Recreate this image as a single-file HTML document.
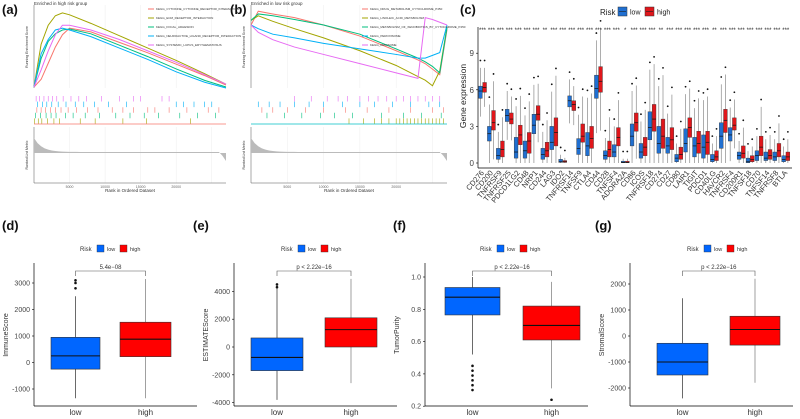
<!DOCTYPE html>
<html><head><meta charset="utf-8"><style>
body{margin:0;background:#fff}
svg{display:block;font-family:"Liberation Sans",Arial,sans-serif}
</style></head><body>
<svg id="fig" width="800" height="419" viewBox="0 0 800 419" xmlns="http://www.w3.org/2000/svg"></svg>
<script>
// ---------- DATA ----------
const gseaA_names=["KEGG_CYTOKINE_CYTOKINE_RECEPTOR_INTERACTION","KEGG_ECM_RECEPTOR_INTERACTION","KEGG_FOCAL_ADHESION","KEGG_NEUROACTIVE_LIGAND_RECEPTOR_INTERACTION","KEGG_SYSTEMIC_LUPUS_ERYTHEMATOSUS"];
const gseaB_names=["KEGG_DRUG_METABOLISM_CYTOCHROME_P450","KEGG_LINOLEIC_ACID_METABOLISM","KEGG_METABOLISM_OF_XENOBIOTICS_BY_CYTOCHROME_P450","KEGG_PEROXISOME","KEGG_RIBOSOME"];
const gseaColors=["#F8766D","#A3A500","#00BF7D","#00B0F6","#E76BF3"];
// rank (thousands) / enrichment score
const gseaA_rank=[0,1,2,3,4,5,8,12,16,20,24,27];
const gseaA_es=[
 [0,0.08,0.25,0.42,0.55,0.62,0.58,0.47,0.36,0.24,0.12,0.02],
 [0,0.45,0.65,0.75,0.78,0.76,0.67,0.54,0.41,0.28,0.14,0.03],
 [0,0.3,0.48,0.56,0.6,0.61,0.56,0.44,0.32,0.19,0.07,0.0],
 [0,0.35,0.5,0.6,0.62,0.6,0.53,0.41,0.29,0.16,0.05,-0.02],
 [0,0.18,0.38,0.55,0.65,0.65,0.6,0.5,0.38,0.26,0.13,0.03]];
const gseaB_rank=[0,1,3,6,10,15,20,23,24,25,26,27];
const gseaB_es=[
 [0.0,0.15,0.12,0.08,0.0,-0.12,-0.28,-0.38,-0.42,-0.48,-0.54,-0.05],
 [0.05,0.1,0.04,-0.04,-0.14,-0.28,-0.44,-0.56,-0.6,-0.66,-0.5,-0.02],
 [0.05,0.12,0.1,0.06,0.0,-0.1,-0.26,-0.36,-0.4,-0.45,-0.52,-0.03],
 [0.0,-0.04,-0.1,-0.14,-0.2,-0.26,-0.32,-0.36,-0.36,-0.33,-0.3,0.0],
 [0.0,-0.08,-0.16,-0.24,-0.32,-0.42,-0.52,-0.58,0.08,0.06,0.03,0.0]];
const rugA=[[0.3,0.8,1.4,2,2.6,3.2,4.1,5.2,6.3,7.4,9.5,12,14,15,18,19],[0.5,1.2,1.8,2.5,3.4,4.5,5.8,7,8.5,10.5,13,20,21,22.5,24,25],[0.4,1,1.6,2.3,3,3.8,4.8,6,7.5,9,11,12.5,14,16,17,19,21.5,24.5,26],[0.2,0.9,1.7,2.4,3.1,4.4,5.5,7.2,9.2,11.5,13.5,15.5,17.5,20.5,23,25.5],[0.1,0.6,1.1,1.9,2.8,3.6,6.5,8.6,12.5,15.8,22]];
const rugB=[[6,8.3,10.5,12,13.3,15,16.2,17.5,18.7,20,21,22,23,24,25,26],[1,2.5,4,6,8,10,12.6,15,17,19.5,22,24.5,26],[1.5,3,5,7.5,10,13,16,19,22,25,26.5],[2.2,4.6,7,9.6,11.5,14,18,21,23.5,26.2],[13.5,15.5,17,18,19,20,20.5,21,21.5,22,22.5,23,23.5,24,24.5,25,25.5,26,26.5]];

const genes=["CD276","CD200","TNFRSF9","TNFRSF25","PDCD1LG2","CD48","NRP1","CD244","LAG3","IDO2","TNFRSF14","TNFSF9","CTLA4","CD44","CD28","TNFSF4","ADORA2A","CD86","ICOS","TNFRSF18","CD274","CD27","CD80","LAIR1","TIGIT","PDCD1","CD40LG","HAVCR2","TNFRSF4","CD200R1","TNFSF18","CD70","TNFSF14","TNFRSF8","BTLA"];
const stars=["***","***","***","***","***","***","***","**","***","***","***","***","***","***","***","***","*","***","***","***","**","***","***","***","***","***","**","***","***","***","***","***","***","***","***"];
const lowMed=[5.9,2.4,0.6,3.9,0.9,1.0,3.1,0.7,1.7,0.1,5.1,1.2,1.4,6.1,0.6,0.9,0.05,2.2,0.9,2.9,1.6,1.4,0.4,1.6,1.4,1.3,0.3,2.2,2.3,0.6,0.1,0.6,0.4,0.5,0.3];
const lowQ1=[5.3,1.8,0.3,3.4,0.4,0.4,2.4,0.3,1.1,0.05,4.6,0.7,0.6,5.3,0.3,0.5,0.02,1.4,0.4,1.9,0.8,0.8,0.1,0.9,0.5,0.4,0.1,1.2,1.8,0.3,0.02,0.2,0.2,0.2,0.1];
const lowQ3=[6.3,3.0,1.2,4.4,2.1,1.8,4.0,1.2,3.0,0.3,5.5,2.0,2.5,7.2,1.0,1.5,0.15,3.2,1.6,4.2,3.0,2.1,0.7,2.8,2.1,2.3,0.7,3.3,2.9,0.9,0.4,1.0,0.9,0.9,0.6];
const highMed=[6.2,3.3,1.1,3.6,2.3,1.8,4.0,1.0,2.5,0.1,4.8,2.2,2.0,6.7,1.1,2.1,0.05,3.3,1.3,3.6,2.2,1.9,0.7,2.9,1.6,1.7,0.5,3.5,3.1,0.8,0.3,1.3,0.6,1.0,0.5];
const highQ1=[5.8,2.7,0.5,3.2,1.5,0.8,3.5,0.5,1.4,0.05,4.3,1.7,1.2,5.8,0.5,1.4,0.02,2.6,0.6,2.6,1.2,1.1,0.3,2.1,0.8,0.7,0.2,2.5,2.7,0.4,0.1,0.6,0.3,0.5,0.2];
const highQ3=[6.6,4.3,1.8,4.1,3.1,2.5,4.7,1.7,3.7,0.2,5.1,3.2,3.0,7.9,1.8,2.9,0.15,4.1,2.1,4.8,3.6,2.9,1.3,3.7,2.6,2.6,1.0,4.4,3.7,1.4,0.6,2.2,1.1,1.6,0.9];
const cTicks=[0,3,6,9];

// bottom panels: [low, high] -> min, q1, median, q3, max
const dStats=[[-1350,-250,250,950,2500],[-1350,220,880,1520,3150]];
const dOut=[2800,3000,3100];
const eStats=[[-3800,-1700,-750,650,4200],[-2600,0,1250,2100,4900]];
const eOut=[4300,4500];
const fStats=[[0.52,0.765,0.875,0.935,1.0],[0.31,0.61,0.70,0.82,0.97]];
const fOutLow=[0.45,0.42,0.39,0.36,0.33,0.30];
const fOutHigh=[0.24];
const gStats=[[-2400,-1500,-1000,-280,1450],[-1800,-350,250,760,2200]];
const dTicks=[-1000,0,1000,2000,3000];
const eTicks=[-4000,-2000,0,2000,4000];
const fTicks=[0.2,0.4,0.6,0.8,1.0];
const gTicks=[-2000,-1000,0,1000,2000];

// ---------- HELPERS ----------
const svg=document.getElementById('fig');
const NS="http://www.w3.org/2000/svg";
function mk(tag,attrs,parent,text){const e=document.createElementNS(NS,tag);for(const k in attrs)e.setAttribute(k,attrs[k]);if(text!==undefined)e.textContent=text;(parent||svg).appendChild(e);return e;}
function grp(name){const g=mk('g',{});return g;}

// panel labels
[["(a)",2,14],["(b)",230,14],["(c)",460,14],["(d)",2,230],["(e)",193,230],["(f)",393,230],["(g)",595,230]].forEach(l=>{
 const t=mk('text',{x:l[1],y:l[2],'font-size':13,'font-weight':'bold',fill:'#111'},svg,l[0]);
 
 
});

// ---------- GSEA ----------
function gsea(name,x0,x1,rank,es,names,rug,zeroY,scale,title,legX,rugLine){
 const g=grp(name);
 const xs=r=>x0+(r/27)*(x1-x0);
 const ys=v=>Math.max(5,Math.min(88,zeroY-v*scale));
 mk('rect',{x:x0,y:5,width:x1-x0,height:83,fill:'#fff'},g);
 [5,10,15,20,25].forEach(k=>{mk('line',{x1:xs(k),x2:xs(k),y1:5,y2:88,stroke:'#eee','stroke-width':0.5},g);mk('line',{x1:xs(k),x2:xs(k),y1:127,y2:183,stroke:'#eee','stroke-width':0.5},g);});
 mk('line',{x1:x0,x2:x0,y1:5,y2:88,stroke:'#555','stroke-width':0.5},g);
 mk('line',{x1:x0,x2:x0,y1:127,y2:183,stroke:'#555','stroke-width':0.5},g);
 mk('line',{x1:x0,x2:x1,y1:183,y2:183,stroke:'#555','stroke-width':0.5},g);
 const tt=mk('text',{x:x0,y:5,'font-size':4.5,fill:'#333'},g,title);
 
 
 const yl=mk('text',{x:0,y:0,'font-size':3.5,fill:'#333','text-anchor':'middle',transform:`translate(${x0-6},47) rotate(-90)`},g,'Running Enrichment Score');
 
 
 const yl2=mk('text',{x:0,y:0,'font-size':3.5,fill:'#333','text-anchor':'middle',transform:`translate(${x0-6},155) rotate(-90)`},g,'Ranked List Metric');
 
 
 const xl=mk('text',{x:(x0+x1)/2,y:192,'font-size':4.5,fill:'#333','text-anchor':'middle'},g,'Rank in Ordered Dataset');
 
 
 [5,10,15,20].forEach(k=>{const t=mk('text',{x:xs(k),y:188,'font-size':3.5,fill:'#666','text-anchor':'middle'},g,k*1000);});
 let d=`M${x0},153 L${x0},138 `;
 for(let r=0;r<=27;r+=0.5){const v=r<26.3?14*Math.exp(-r*0.9)+1:-((r-26.3)*14);d+=`L${xs(r)},${153-Math.max(v,-8)} `;}
 d+=`L${x1},153 Z`;
 const p=mk('path',{d:d,fill:'#bbb'},g);
 rug.forEach((arr,i)=>{arr.forEach(r=>{const l=mk('line',{x1:xs(r),x2:xs(r),y1:96+i*5.6,y2:101.5+i*5.6,stroke:gseaColors[i===0?4:i===1?3:i===2?0:i===3?2:1],'stroke-width':0.6},g);
   });});
 mk('line',{x1:x0,x2:x1,y1:124,y2:124,stroke:rugLine,'stroke-width':0.8},g);
 es.forEach((ser,i)=>{
   const pts=ser.map((v,j)=>`${xs(rank[j])},${ys(v)}`).join(' ');
   const pl=mk('polyline',{points:pts,fill:'none',stroke:gseaColors[i],'stroke-width':1},g);
   
   
 });
 names.forEach((n,i)=>{
   const yy=9+i*9;
   const ll=mk('line',{x1:legX,x2:legX+6,y1:yy,y2:yy,stroke:gseaColors[i],'stroke-width':1},g);
   
   const lt=mk('text',{x:legX+8,y:yy+1,'font-size':3,fill:'#333'},g,n);
   
 });
}
gsea('gsea-panel-a',34,226,gseaA_rank,gseaA_es,gseaA_names,rugA,87,95,'Enriched in high risk group',148,'#F8766D');
gsea('gsea-panel-b',251,447,gseaB_rank,gseaB_es,gseaB_names,rugB,25,92,'Enriched in low risk group',362,'#00BFC4');

// ---------- PANEL C ----------
(function(){
 const g=grp('boxplot-panel-c');
 const yv=v=>163-v*12.2;
 const cx=i=>482.5+i*8.92;
 mk('line',{x1:478,x2:478,y1:27,y2:168,stroke:'#000','stroke-width':0.7},g);
 mk('line',{x1:478,x2:792,y1:168,y2:168,stroke:'#000','stroke-width':0.7},g);
 cTicks.forEach(t=>{mk('line',{x1:476,x2:478,y1:yv(t),y2:yv(t),stroke:'#000','stroke-width':0.6},g);
   const tx=mk('text',{x:474,y:yv(t)+3,'font-size':8,'text-anchor':'end',fill:'#444'},g,t);});
 const yt=mk('text',{x:0,y:0,'font-size':8.5,'text-anchor':'middle',fill:'#222',transform:'translate(466,96) rotate(-90)'},g,'Gene expression');
 
 const lg=mk('text',{x:600,y:15,'font-size':8,fill:'#222'},g,'Risk');
 [[618,'#1f6fd1','low'],[645,'#e0161b','high']].forEach(k=>{
   const r=mk('rect',{x:k[0],y:7,width:9,height:9,fill:k[1],stroke:'#333','stroke-width':0.5},g);
   mk('line',{x1:k[0]+1,x2:k[0]+8,y1:11.5,y2:11.5,stroke:'#222','stroke-width':0.6},g);
   const t=mk('text',{x:k[0]+12,y:14.5,'font-size':7,fill:'#222'},g,k[2]);});
 function box(x,q1,md,q3,col){
   const iqr=q3-q1;const lo=Math.max(0,q1-1.5*iqr),hi=q3+1.5*iqr;
   mk('line',{x1:x,x2:x,y1:yv(hi),y2:yv(lo),stroke:'#777','stroke-width':0.6},g);
   const r=mk('rect',{x:x-1.9,y:yv(q3),width:3.8,height:Math.max(0.5,yv(q1)-yv(q3)),fill:col,stroke:'#333','stroke-width':0.4},g);
   
   mk('line',{x1:x-1.9,x2:x+1.9,y1:yv(md),y2:yv(md),stroke:'#111','stroke-width':0.7},g);
   mk('circle',{cx:x,cy:yv(hi+0.6),r:0.9,fill:'#111'},g);
 }
 genes.forEach((gn,i)=>{
   box(cx(i)-2.1,lowQ1[i],lowMed[i],lowQ3[i],'#1f6fd1');
   box(cx(i)+2.1,highQ1[i],highMed[i],highQ3[i],'#e0161b');
   const s=mk('text',{x:cx(i),y:32,'font-size':6,'text-anchor':'middle',fill:'#222'},g,stars[i]);
   const t=mk('text',{x:0,y:0,'font-size':7.5,'text-anchor':'end',fill:'#333',transform:`translate(${cx(i)+2},173) rotate(-50)`},g,gn);
   
 });
})();

// ---------- BOTTOM PANELS ----------
function score(name,ax,boxL,boxH,stats,ticks,y0px,pxPer,unit,title,ptext,legX,outsL,outsH,fmt){
 const g=grp(name);
 const yv=v=>y0px-v*pxPer;
 mk('line',{x1:ax,x2:ax,y1:263,y2:406,stroke:'#000','stroke-width':0.7},g);
 mk('line',{x1:ax,x2:ax+163,y1:406,y2:406,stroke:'#000','stroke-width':0.7},g);
 ticks.forEach(t=>{mk('line',{x1:ax-2,x2:ax,y1:yv(t),y2:yv(t),stroke:'#000','stroke-width':0.6},g);
   const tx=mk('text',{x:ax-4,y:yv(t)+2.5,'font-size':7,'text-anchor':'end',fill:'#444'},g,fmt(t));});
 const yt=mk('text',{x:0,y:0,'font-size':7,'text-anchor':'middle',fill:'#333',transform:`translate(${ax-26},335) rotate(-90)`},g,title);
 
 const cols=['#0066ff','#ff0000'];const xs=[boxL,boxH];const labs=['low','high'];
 stats.forEach((s,i)=>{
   const c=(xs[i][0]+xs[i][1])/2;
   mk('line',{x1:c,x2:c,y1:yv(s[4]),y2:yv(s[0]),stroke:i?'#888':'#444','stroke-width':0.8},g);
   const r=mk('rect',{x:xs[i][0],y:yv(s[3]),width:xs[i][1]-xs[i][0],height:yv(s[1])-yv(s[3]),fill:cols[i],stroke:'#333','stroke-width':0.6},g);
   
   mk('line',{x1:xs[i][0],x2:xs[i][1],y1:yv(s[2]),y2:yv(s[2]),stroke:'#111','stroke-width':1.1},g);
   const tl=mk('text',{x:c,y:415,'font-size':8,'text-anchor':'middle',fill:'#333'},g,labs[i]);
   (i?outsH:outsL).forEach(o=>{mk('circle',{cx:c,cy:yv(o),r:1.3,fill:'#111'},g);});
 });
 const cL=(boxL[0]+boxL[1])/2,cH=(boxH[0]+boxH[1])/2;
 mk('path',{d:`M${cL},${276} L${cL},${271} L${cH},${271} L${cH},${276}`,fill:'none',stroke:'#555','stroke-width':0.6},g);
 const pt=mk('text',{x:(cL+cH)/2,y:269,'font-size':6,'text-anchor':'middle',fill:'#333'},g,ptext);
 const lg=mk('text',{x:legX,y:251,'font-size':6,fill:'#333'},g,'Risk');
 [[legX+17,cols[0],'low'],[legX+40,cols[1],'high']].forEach(k=>{
   const r=mk('rect',{x:k[0],y:245,width:7,height:7,fill:k[1],stroke:'#333','stroke-width':0.4},g);
   const t=mk('text',{x:k[0]+10,y:251,'font-size':5.5,fill:'#333'},g,k[2]);});
}
const ifmt=t=>String(t);
score('immune-score-panel-d',34,[51,100],[120,171],dStats,dTicks,362.5,0.0265,1,'ImmuneScore','5.4e\u221208',80,dOut,[],ifmt);
score('estimate-score-panel-e',234,[251,303],[325,377],eStats,eTicks,347,0.0139,1,'ESTIMATEScore','p < 2.22e\u221216',281,eOut,[],ifmt);
score('tumor-purity-panel-f',425,[445,500],[523,580],fStats,fTicks,438.5,161.5,1,'TumorPurity','p < 2.22e\u221216',480,fOutLow,fOutHigh,t=>t.toFixed(1));
score('stromal-score-panel-g',630,[657,708],[730,780],gStats,gTicks,336,0.026,1,'StromalScore','p < 2.22e\u221216',687,[],[],ifmt);
</script>
</body></html>
